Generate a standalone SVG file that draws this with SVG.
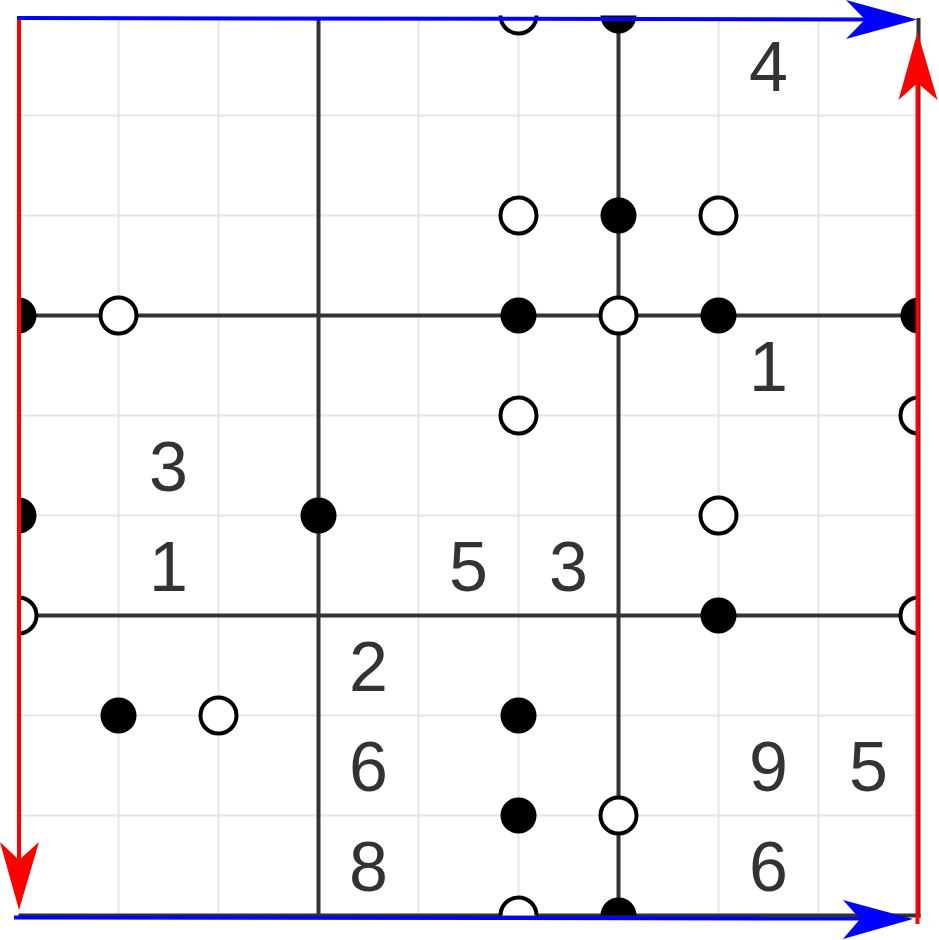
<svg xmlns="http://www.w3.org/2000/svg" width="939" height="940" viewBox="0 0 939 940">
  <style>
    .thin { stroke: #e6e6e6; stroke-width: 2; fill: none; }
    .thick { stroke: #333333; stroke-width: 4; fill: none; }
    .w { fill: #ffffff; stroke: #000000; stroke-width: 4; }
    .b { fill: #000000; stroke: none; }
    .d { font-family: "Liberation Sans", Arial, sans-serif; font-size: 70px; fill: #333333; text-anchor: middle; }
    .blue { stroke: #0000ff; stroke-width: 4; fill: none; }
    .red { stroke: #ff0000; stroke-width: 4; fill: none; }
  </style>
  <defs>
    <clipPath id="gridclip">
      <rect x="18.5" y="15.5" width="900" height="900"/>
    </clipPath>
  </defs>
  <rect width="939" height="940" fill="#ffffff"/>
  <g id="grid">
    <g class="thin">
      <line x1="118.5" y1="18" x2="118.5" y2="915.5"/>
      <line x1="218.5" y1="18" x2="218.5" y2="915.5"/>
      <line x1="418.5" y1="18" x2="418.5" y2="915.5"/>
      <line x1="518.5" y1="18" x2="518.5" y2="915.5"/>
      <line x1="718.5" y1="18" x2="718.5" y2="915.5"/>
      <line x1="818.5" y1="18" x2="818.5" y2="915.5"/>
      <line x1="20" y1="115.5" x2="918.5" y2="115.5"/>
      <line x1="20" y1="215.5" x2="918.5" y2="215.5"/>
      <line x1="20" y1="415.5" x2="918.5" y2="415.5"/>
      <line x1="20" y1="515.5" x2="918.5" y2="515.5"/>
      <line x1="20" y1="715.5" x2="918.5" y2="715.5"/>
      <line x1="20" y1="815.5" x2="918.5" y2="815.5"/>
    </g>
    <g class="thick">
      <line x1="318.5" y1="18" x2="318.5" y2="915.5"/>
      <line x1="618.5" y1="18" x2="618.5" y2="915.5"/>
      <line x1="20" y1="315.5" x2="918.5" y2="315.5"/>
      <line x1="20" y1="615.5" x2="918.5" y2="615.5"/>
      <line x1="18.5" y1="915.5" x2="920.5" y2="915.5"/>
      <line x1="918.5" y1="18" x2="918.5" y2="917.5"/>
    </g>
  </g>
  <g id="dots" clip-path="url(#gridclip)">
    <circle class="w" cx="518.5" cy="15.5" r="18"/>
    <circle class="b" cx="618.5" cy="15.5" r="18"/>
    <circle class="w" cx="518.5" cy="215.5" r="18"/>
    <circle class="b" cx="618.5" cy="215.5" r="18"/>
    <circle class="w" cx="718.5" cy="215.5" r="18"/>
    <circle class="b" cx="18.5" cy="315.5" r="18"/>
    <circle class="w" cx="118.5" cy="315.5" r="18"/>
    <circle class="b" cx="518.5" cy="315.5" r="18"/>
    <circle class="w" cx="618.5" cy="315.5" r="18"/>
    <circle class="b" cx="718.5" cy="315.5" r="18"/>
    <circle class="b" cx="918.5" cy="315.5" r="18"/>
    <circle class="w" cx="518.5" cy="415.5" r="18"/>
    <circle class="w" cx="918.5" cy="415.5" r="18"/>
    <circle class="b" cx="18.5" cy="515.5" r="18"/>
    <circle class="b" cx="318.5" cy="515.5" r="18"/>
    <circle class="w" cx="718.5" cy="515.5" r="18"/>
    <circle class="w" cx="18.5" cy="615.5" r="18"/>
    <circle class="b" cx="718.5" cy="615.5" r="18"/>
    <circle class="w" cx="918.5" cy="615.5" r="18"/>
    <circle class="b" cx="118.5" cy="715.5" r="18"/>
    <circle class="w" cx="218.5" cy="715.5" r="18"/>
    <circle class="b" cx="518.5" cy="715.5" r="18"/>
    <circle class="b" cx="518.5" cy="815.5" r="18"/>
    <circle class="w" cx="618.5" cy="815.5" r="18"/>
    <circle class="w" cx="518.5" cy="915.5" r="18"/>
    <circle class="b" cx="618.5" cy="915.5" r="18"/>
  </g>
  <g id="digits" class="d">
    <text x="768.5" y="91">4</text>
    <text x="768.5" y="391">1</text>
    <text x="168.5" y="491">3</text>
    <text x="168.5" y="591">1</text>
    <text x="468.5" y="591">5</text>
    <text x="568.5" y="591">3</text>
    <text x="368.5" y="691">2</text>
    <text x="368.5" y="791">6</text>
    <text x="768.5" y="791">9</text>
    <text x="868.5" y="791">5</text>
    <text x="368.5" y="891">8</text>
    <text x="768.5" y="891">6</text>
  </g>
  <g id="connectors">
    <line class="red" x1="19" y1="18" x2="19" y2="865"/>
    <path d="M19,910 L0,842 L19,860 L39,842 Z" fill="#ff0000"/>
    <line class="red" x1="917.5" y1="924" x2="917.5" y2="80"/>
    <path d="M917.5,32 L898.5,100 L917.5,83 L937.5,100 Z" fill="#ff0000"/>
    <line class="blue" x1="17" y1="18" x2="868" y2="19.5"/>
    <path d="M917,19.5 L846,0 L865,19.5 L846,39 Z" fill="#0000ff"/>
    <line class="blue" x1="14" y1="917.5" x2="862" y2="918.5"/>
    <path d="M913,919 L843,900 L860,919 L843,939 Z" fill="#0000ff"/>
  </g>
</svg>
